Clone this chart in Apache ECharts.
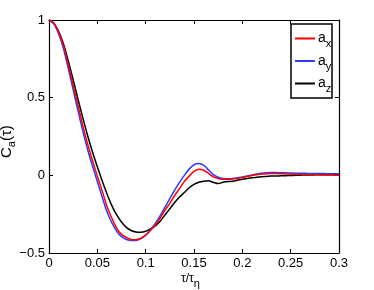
<!DOCTYPE html>
<html><head><meta charset="utf-8">
<script src="https://cdn.jsdelivr.net/npm/echarts@6/dist/echarts.min.js"></script>
<style>html,body{margin:0;padding:0;background:#fff}#c{width:374px;height:290px}</style>
</head><body><div id="c"></div>
<script>
const tau = [0,0.005,0.01,0.015,0.02,0.025,0.03,0.035,0.04,0.045,0.05,0.055,0.06,0.065,0.07,0.075,0.08,0.085,0.09,0.095,0.1,0.105,0.11,0.115,0.12,0.125,0.13,0.135,0.14,0.145,0.15,0.155,0.16,0.165,0.17,0.175,0.18,0.185,0.19,0.195,0.2,0.205,0.21,0.215,0.22,0.225,0.23,0.235,0.24,0.245,0.25,0.255,0.26,0.265,0.27,0.275,0.28,0.285,0.29,0.295,0.3];
const ax = [1,0.98,0.92,0.835,0.71,0.58,0.45,0.32,0.2,0.095,-0.005,-0.1,-0.2,-0.275,-0.34,-0.38,-0.4,-0.413,-0.415,-0.405,-0.385,-0.355,-0.32,-0.275,-0.225,-0.18,-0.13,-0.085,-0.04,-0.005,0.025,0.039,0.033,0.012,-0.01,-0.02,-0.025,-0.026,-0.024,-0.02,-0.014,-0.007,-0.001,0.004,0.008,0.01,0.011,0.011,0.01,0.009,0.008,0.007,0.006,0.005,0.004,0.004,0.003,0.002,0.002,0.001,0];
const ay = [1,0.975,0.91,0.815,0.685,0.55,0.415,0.285,0.165,0.06,-0.04,-0.14,-0.235,-0.305,-0.36,-0.395,-0.413,-0.42,-0.419,-0.408,-0.385,-0.35,-0.31,-0.26,-0.205,-0.15,-0.095,-0.045,0,0.04,0.068,0.076,0.065,0.035,0.005,-0.012,-0.02,-0.022,-0.02,-0.015,-0.01,-0.004,0.003,0.009,0.014,0.017,0.018,0.018,0.017,0.016,0.015,0.014,0.013,0.013,0.012,0.012,0.011,0.011,0.01,0.01,0.01];
const az = [1,0.98,0.925,0.845,0.735,0.615,0.49,0.37,0.255,0.15,0.055,-0.035,-0.12,-0.195,-0.255,-0.3,-0.335,-0.355,-0.365,-0.367,-0.36,-0.345,-0.325,-0.295,-0.255,-0.215,-0.175,-0.14,-0.11,-0.08,-0.058,-0.045,-0.038,-0.035,-0.045,-0.053,-0.045,-0.04,-0.038,-0.032,-0.025,-0.02,-0.016,-0.012,-0.009,-0.007,-0.005,-0.004,-0.003,-0.002,-0.001,0,0.001,0.002,0.002,0.003,0.003,0.004,0.004,0.005,0.005];
const xTicks = [0,0.05,0.1,0.15,0.2,0.25,0.3];
const yTicks = [-0.5,0,0.5,1];
const names = ['a_x','a_y','a_z'];
const colors = ['#ff0000','#2a3cff','#000000'];

const font = 'Liberation Sans, Arial, sans-serif';
const chart = echarts.init(document.getElementById('c'));
const pair = arr => tau.map((t,i)=>[t,arr[i]]);
const axisCommon = {
  axisLine:{show:true,onZero:false,lineStyle:{color:'#000',width:1.2}},
  axisTick:{show:true,inside:true,length:4,lineStyle:{color:'#000'}},
  splitLine:{show:false}
};
const legendTop = 24, rowH = 22.5;
const legendLabels = names.map((n,i)=>({
  type:'text', x:318, y:legendTop+14.5+i*rowH, z:100,
  style:{text:'{m|a}{s|'+n.split('_')[1]+'}', verticalAlign:'middle',
    rich:{m:{fontFamily:font,fontSize:14,fill:'#000'},
          s:{fontFamily:font,fontSize:11,fill:'#000',padding:[11,0,0,0]}}}
}));
chart.setOption({
  animation:false,
  backgroundColor:'#fff',
  grid:{left:49,right:35,top:20,bottom:37},
  xAxis:[
    Object.assign({type:'value',min:0,max:0.3,interval:0.05,position:'bottom',
      axisLabel:{color:'#000',fontFamily:font,fontSize:13,margin:4,formatter:v=>String(+v.toFixed(2))}},axisCommon),
    Object.assign({type:'value',min:0,max:0.3,interval:0.05,position:'top',axisLabel:{show:false}},axisCommon)
  ],
  yAxis:[
    Object.assign({type:'value',min:-0.5,max:1,interval:0.5,position:'left',
      axisLabel:{color:'#000',fontFamily:font,fontSize:13,margin:4,formatter:v=>v<0?'\u2212'+String(-v):String(v)}},axisCommon),
    Object.assign({type:'value',min:-0.5,max:1,interval:0.5,position:'right',axisLabel:{show:false}},axisCommon)
  ],
  legend:{
    orient:'vertical',left:291,top:legendTop,
    backgroundColor:'#fff',borderColor:'#000',borderWidth:1.5,borderRadius:0,
    padding:[5,3,5,4],itemGap:3.5,itemWidth:20,itemHeight:2,icon:'rect',
    data:names.map((n,i)=>({name:n,itemStyle:{color:colors[i]}})),
    formatter:()=>' ',
    textStyle:{width:9,height:19,lineHeight:19,fontSize:12}
  },
  graphic:[
    {type:'text',x:17,y:158,rotation:Math.PI/2,
      style:{text:'{m|C}{s|a}{m|(\u03c4)}',align:'left',verticalAlign:'bottom',
      rich:{m:{fontFamily:font,fontSize:15,fill:'#000'},s:{fontFamily:font,fontSize:11,fill:'#000',padding:[10,0,0,0]}}}},
    {type:'text',x:181,y:268,
      style:{text:'{m|\u03c4/\u03c4}{s|\u03b7}',
      rich:{m:{fontFamily:font,fontSize:12,fill:'#000'},s:{fontFamily:font,fontSize:11,fill:'#000',padding:[10,0,0,0]}}}}
  ].concat(legendLabels),
  series:names.map((n,i)=>({
    name:n,type:'line',data:pair([ax,ay,az][i]),symbol:'none',smooth:0.3,
    lineStyle:{color:colors[i],width:1.5},itemStyle:{color:colors[i]},z:3-i
  }))
});
</script></body></html>
